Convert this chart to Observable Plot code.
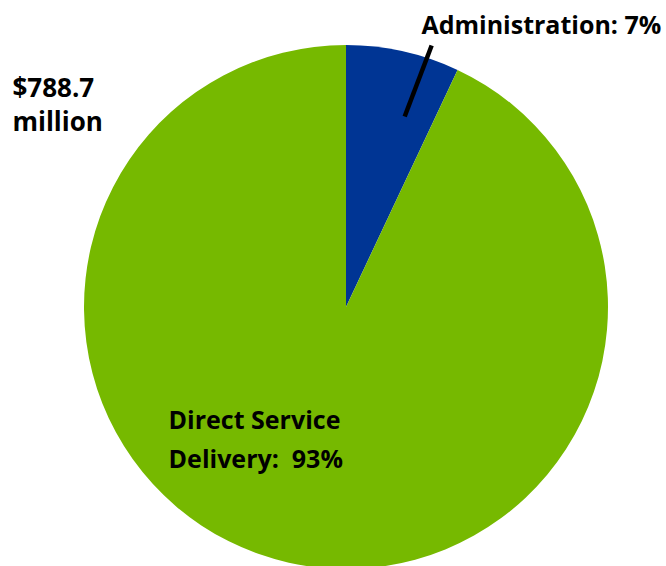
<!DOCTYPE html>
<html>
<head>
<meta charset="utf-8">
<script src="https://cdn.jsdelivr.net/npm/d3@7"></script>
<script src="https://cdn.jsdelivr.net/npm/@observablehq/plot@0.6"></script>
<style>
  html, body { margin: 0; padding: 0; background: #fff; }
  #chart svg { display: block; }
</style>
</head>
<body>
<div id="chart"></div>
<script>
const categories = ["Administration", "Direct Service Delivery"];
const shares = [7, 93];
const colors = ["#003594", "#76B900"];
const totalLabel = ["$788.7", "million"];
const sliceLabels = [["Administration: 7%"], ["Direct Service", "Delivery:  93%"]];

const slices = categories.map((c, i) => ({category: c, share: shares[i], color: colors[i]}));
const arcs = d3.pie().sort(null).value(d => d.share)(slices);

function pieMark(index, scales, values, dimensions, context) {
  const cx = scales.x(0), cy = scales.y(0);
  const r = scales.x(1) - scales.x(0);
  const g = d3.create("svg:g").attr("transform", `translate(${cx},${cy})`);
  const arc = d3.arc().innerRadius(0).outerRadius(r);
  g.selectAll("path").data(arcs).join("path")
    .attr("d", arc)
    .attr("fill", d => d.data.color);
  return g.node();
}

const font = "'Open Sans', 'DejaVu Sans', sans-serif";

const chart = Plot.plot({
  width: 666,
  height: 566,
  margin: 0,
  x: {domain: [-1, 1], range: [84, 608], axis: null},
  y: {domain: [1, -1], range: [45, 569], axis: null},
  style: {fontFamily: font, background: "#fff"},
  marks: [
    pieMark,
    Plot.link([0], {
      x1: 0.222, y1: 0.729, x2: 0.325, y2: 1.0,
      stroke: "#000", strokeWidth: 4.5
    }),
    Plot.text([sliceLabels[0].join("\n")], {
      x: 0.286, y: 1.045, text: d => d, textAnchor: "start", lineAnchor: "bottom",
      fontSize: 25, fontWeight: "bold", fill: "#000"
    }),
    Plot.text([totalLabel.join("\n")], {
      x: -1.275, y: 0.895, text: d => d, textAnchor: "start", lineAnchor: "top",
      fontSize: 26, fontWeight: "bold", fill: "#000", lineHeight: 1.3
    }),
    Plot.text([sliceLabels[1].join("\n")], {
      x: -0.679, y: -0.358, text: d => d, textAnchor: "start", lineAnchor: "top",
      fontSize: 25, fontWeight: "bold", fill: "#000", lineHeight: 1.55
    })
  ]
});
document.getElementById("chart").appendChild(chart);
</script>
</body>
</html>
